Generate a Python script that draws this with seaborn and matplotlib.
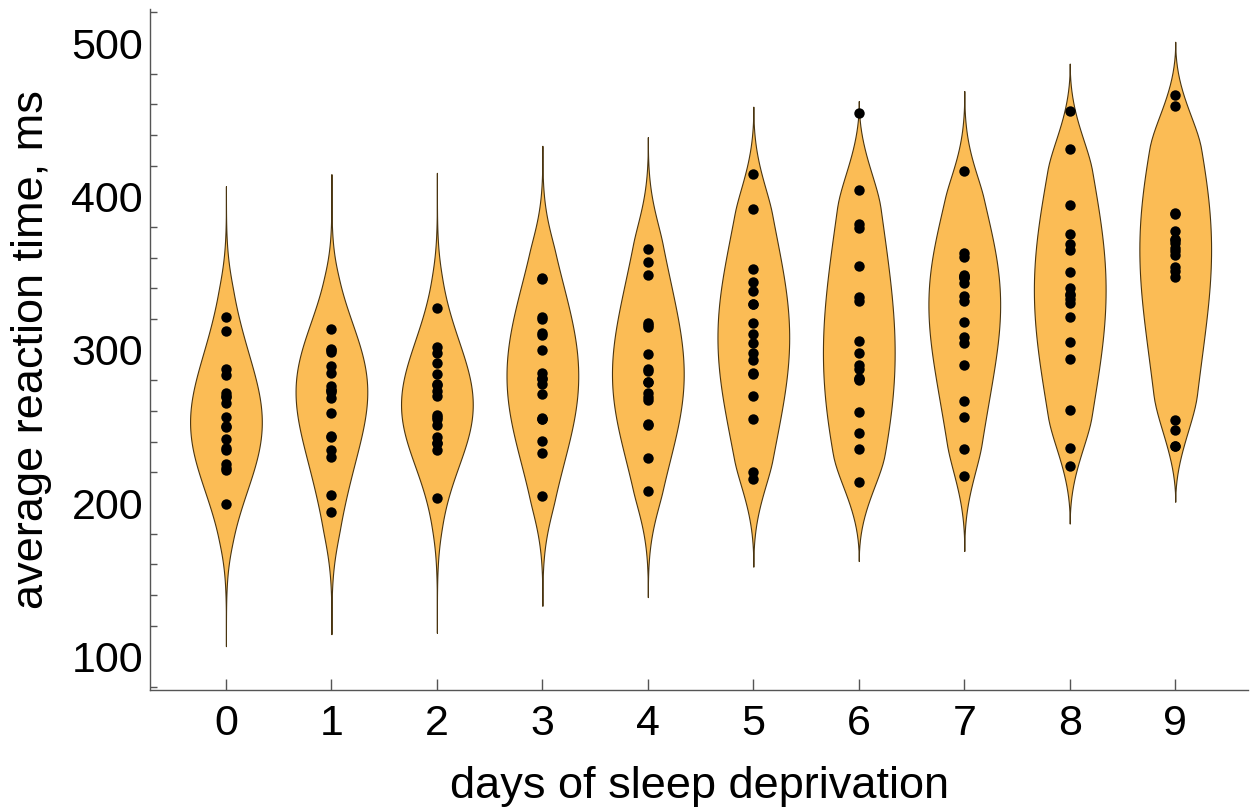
import numpy as np
import pandas as pd
import matplotlib
matplotlib.use("Agg")
import matplotlib.pyplot as plt
import seaborn as sns
from matplotlib.ticker import MultipleLocator

# sleepstudy reaction times (ms), 18 subjects per day
days = list(range(10))
rt_day0 = [249.6, 222.7, 199.1, 321.5, 287.6, 234.9, 283.8, 265.5, 241.6, 312.4, 236.1, 256.3, 250.5, 221.7, 271.9, 225.3, 269.9, 269.4]
rt_day1 = [258.7, 205.3, 194.3, 300.4, 285.0, 242.8, 289.6, 276.2, 273.9, 313.8, 230.3, 243.5, 300.1, 298.2, 268.4, 234.5, 272.4, 273.5]
rt_day2 = [250.8, 203.0, 234.3, 283.9, 301.8, 273.0, 276.8, 243.4, 254.5, 291.6, 238.9, 256.2, 269.9, 326.9, 257.2, 238.9, 277.9, 297.6]
rt_day3 = [321.4, 204.7, 232.8, 285.1, 320.1, 309.8, 299.8, 254.7, 270.8, 346.1, 254.9, 255.5, 280.6, 346.9, 277.7, 240.5, 281.8, 310.6]
rt_day4 = [356.9, 207.7, 229.3, 285.8, 316.3, 317.5, 297.2, 279.0, 251.5, 365.7, 250.7, 268.9, 271.8, 348.7, 314.8, 267.5, 279.2, 287.2]
rt_day5 = [414.7, 216.0, 220.5, 297.6, 293.3, 310.0, 338.2, 284.2, 254.6, 391.8, 269.8, 329.7, 304.6, 352.8, 317.2, 344.2, 284.5, 329.6]
rt_day6 = [382.2, 213.6, 235.4, 280.2, 290.1, 454.2, 332.0, 305.5, 245.5, 404.3, 281.6, 379.4, 287.7, 354.4, 298.1, 281.1, 259.3, 334.5]
rt_day7 = [290.1, 217.7, 255.8, 318.3, 334.8, 346.8, 348.8, 331.5, 235.3, 416.7, 308.1, 362.9, 266.6, 360.4, 348.1, 347.6, 304.6, 343.2]
rt_day8 = [430.6, 224.3, 261.0, 305.3, 293.7, 330.3, 333.4, 335.7, 235.8, 455.9, 336.3, 394.5, 321.5, 375.6, 340.3, 365.2, 350.8, 369.1]
rt_day9 = [466.4, 237.3, 247.5, 354.0, 371.6, 253.9, 362.0, 377.3, 237.2, 458.9, 351.6, 389.1, 347.6, 388.5, 366.5, 372.2, 369.5, 364.1]

all_days = [rt_day0, rt_day1, rt_day2, rt_day3, rt_day4,
            rt_day5, rt_day6, rt_day7, rt_day8, rt_day9]
df = pd.DataFrame({
    "day": np.repeat([str(d) for d in days], 18),
    "rt": np.concatenate(all_days),
})
order = [str(d) for d in days]

sns.set_style("white")
plt.rcParams["font.family"] = ["Liberation Sans", "DejaVu Sans"]
plt.rcParams["text.color"] = "black"
plt.rcParams["axes.labelcolor"] = "black"

fig, ax = plt.subplots(figsize=(12.5, 8.1), dpi=100)
fig.subplots_adjust(left=0.12, right=0.9984, top=0.9885, bottom=0.148)

fill = "#FBBC55"
edge = "#4a3510"
half_span = 150   # each violin is shown over mean +/- this
taper_len = 70    # tails narrow to a point over this distance

for i, vals in enumerate(all_days):
    sub = df[df["day"] == str(i)]
    n_before = len(ax.collections)
    sns.violinplot(data=sub, x="day", y="rt", order=order, ax=ax,
                   color=fill, inner=None, cut=10, gridsize=400,
                   bw_method="scott", bw_adjust=1.8,
                   density_norm="width", width=0.68, linewidth=0.8,
                   linecolor=edge, saturation=1)
    m = np.mean(vals)
    for coll in ax.collections[n_before:]:
        new = []
        for p in coll.get_paths():
            v = p.vertices.copy()
            s = np.clip((half_span - np.abs(v[:, 1] - m)) / taper_len, 0, 1)
            t = s * s * (3 - 2 * s)
            v[:, 0] = i + (v[:, 0] - i) * t
            v[:, 1] = np.clip(v[:, 1], m - half_span, m + half_span)
            new.append(v)
        coll.set_verts(new)

sns.stripplot(data=df, x="day", y="rt", order=order, ax=ax, jitter=False,
              color="black", size=7.5, linewidth=0, zorder=5)

ax.set_xlim(-0.72, 9.69)
ax.set_ylim(78, 522)
ax.yaxis.set_major_locator(MultipleLocator(100))
ax.yaxis.set_minor_locator(MultipleLocator(20))

for side in ["top", "right"]:
    ax.spines[side].set_visible(False)
for side in ["left", "bottom"]:
    ax.spines[side].set_color("#555555")
    ax.spines[side].set_linewidth(1.0)

ax.tick_params(axis="both", which="major", direction="in", length=8,
               width=1.0, color="#555555", labelsize=31, labelcolor="black")
ax.tick_params(axis="y", which="major", pad=5)
ax.tick_params(axis="x", which="major", pad=10, bottom=True)
ax.tick_params(axis="y", which="minor", direction="in", length=5,
               width=1.0, color="#555555", left=True)

ax.set_xlabel("days of sleep deprivation", fontsize=32.5, labelpad=16)
ax.set_ylabel("average reaction time, ms", fontsize=32.5, labelpad=14)

fig.savefig("out.png", dpi=100)
